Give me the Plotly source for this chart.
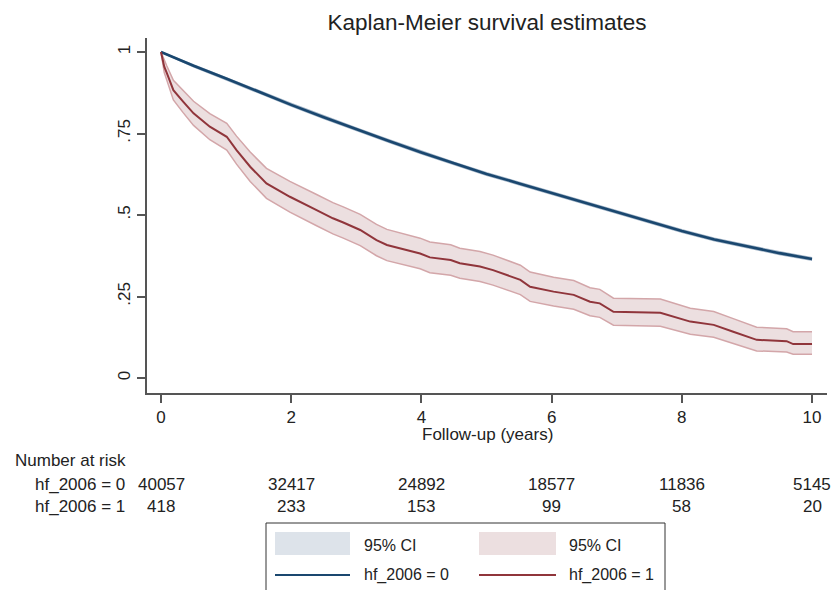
import plotly.graph_objects as go

# ---------------- data ----------------
# hf_2006 = 0 (survival estimate and 95% CI)
t0 = [0.0, 0.5, 1.0, 1.5, 2.0, 2.5, 3.0, 3.5, 4.0, 4.5, 5.0, 5.5, 6.0, 6.5, 7.0, 7.5, 8.0, 8.5, 9.0, 9.5, 10.0]
s0 = [1.0, 0.958, 0.919, 0.878, 0.838, 0.800, 0.763, 0.727, 0.692, 0.658, 0.626, 0.597, 0.568, 0.539, 0.510, 0.480, 0.451, 0.425, 0.403, 0.383, 0.365]
s0_hi = [1.0, 0.961, 0.923, 0.882, 0.842, 0.804, 0.767, 0.731, 0.696, 0.662, 0.630, 0.601, 0.572, 0.543, 0.514, 0.484, 0.455, 0.429, 0.407, 0.387, 0.369]
s0_lo = [1.0, 0.955, 0.915, 0.874, 0.834, 0.796, 0.759, 0.723, 0.688, 0.654, 0.622, 0.593, 0.564, 0.535, 0.506, 0.476, 0.447, 0.421, 0.399, 0.379, 0.361]

# hf_2006 = 1 (survival estimate and 95% CI)
t1 = [0.0, 0.05, 0.09, 0.19, 0.34, 0.50, 0.75, 1.01, 1.16, 1.37, 1.62, 1.98, 2.39, 2.64, 2.80,
      3.06, 3.31, 3.47, 3.98, 4.13, 4.45, 4.59, 4.90, 5.10, 5.52, 5.67, 6.03, 6.34, 6.59, 6.74,
      6.95, 7.67, 8.13, 8.49, 8.79, 9.15, 9.61, 9.71, 10.0]
s1 = [1.0, 0.955, 0.935, 0.883, 0.848, 0.812, 0.771, 0.740, 0.699, 0.648, 0.597, 0.556, 0.515, 0.490, 0.477,
      0.454, 0.423, 0.408, 0.382, 0.370, 0.362, 0.352, 0.342, 0.331, 0.301, 0.280, 0.265, 0.255, 0.234, 0.229,
      0.203, 0.200, 0.173, 0.163, 0.142, 0.117, 0.113, 0.104, 0.104]
s1_hi = [1.0, 0.973, 0.957, 0.913, 0.882, 0.849, 0.811, 0.781, 0.742, 0.693, 0.643, 0.603, 0.563, 0.538, 0.525,
         0.502, 0.471, 0.456, 0.429, 0.417, 0.409, 0.398, 0.388, 0.377, 0.346, 0.325, 0.309, 0.299, 0.277, 0.272,
         0.245, 0.242, 0.214, 0.204, 0.182, 0.156, 0.151, 0.142, 0.142]
s1_lo = [1.0, 0.937, 0.913, 0.853, 0.814, 0.775, 0.731, 0.699, 0.656, 0.603, 0.551, 0.509, 0.467, 0.442, 0.429,
         0.406, 0.375, 0.360, 0.335, 0.323, 0.315, 0.306, 0.296, 0.285, 0.256, 0.235, 0.221, 0.211, 0.191, 0.186,
         0.162, 0.159, 0.134, 0.125, 0.106, 0.083, 0.080, 0.073, 0.073]

# number at risk table
risk_times = [0, 2, 4, 6, 8, 10]
risk_0 = [40057, 32417, 24892, 18577, 11836, 5145]
risk_1 = [418, 233, 153, 99, 58, 20]

x_ticks = [0, 2, 4, 6, 8, 10]
y_ticks = [0, 0.25, 0.5, 0.75, 1]
y_tick_labels = ["0", ".25", ".5", ".75", "1"]

# ---------------- styling ----------------
BLUE = "#1a476f"
BLUE_EDGE = "#a4b6c8"
BLUE_FILL = "#dde3ea"
RED = "#90353b"
RED_EDGE = "#d3a6a9"
RED_FILL = "#ecdfe0"
FONT = "Arial, Liberation Sans, sans-serif"
AX = "#555555"

W, H = 834, 590
ML, MR, MT, MB = 147, 7, 38, 197
PW, PH = W - ML - MR, H - MT - MB


def px(xp):
    return (xp - ML) / PW


def py(yp):
    return (H - MB - yp) / PH


fig = go.Figure()

# CI bands
for t, hi, lo, edge, fill in [(t0, s0_hi, s0_lo, BLUE_EDGE, BLUE_FILL), (t1, s1_hi, s1_lo, RED_EDGE, RED_FILL)]:
    fig.add_trace(go.Scatter(x=t, y=hi, mode="lines", line=dict(color=edge, width=1.5),
                             showlegend=False, hoverinfo="skip"))
    fig.add_trace(go.Scatter(x=t, y=lo, mode="lines", line=dict(color=edge, width=1.5),
                             fill="tonexty", fillcolor=fill, showlegend=False, hoverinfo="skip"))

# survival curves
fig.add_trace(go.Scatter(x=t0, y=s0, mode="lines", line=dict(color=BLUE, width=2.6),
                         name="hf_2006 = 0", showlegend=False))
fig.add_trace(go.Scatter(x=t1, y=s1, mode="lines", line=dict(color=RED, width=2),
                         name="hf_2006 = 1", showlegend=False))

annotations = []
# x-axis title
annotations.append(dict(x=0.5, y=py(434), xref="paper", yref="paper", text="Follow-up (years)",
                        showarrow=False, xanchor="center", yanchor="middle",
                        font=dict(size=17, color="#222222", family=FONT)))
# number at risk
annotations.append(dict(x=px(13), y=py(460), xref="paper", yref="paper", text="Number at risk",
                        showarrow=False, xanchor="left", yanchor="middle",
                        font=dict(size=17, color="#222222", family=FONT)))
for label, vals, yy in [("hf_2006 = 0", risk_0, 484), ("hf_2006 = 1", risk_1, 506)]:
    annotations.append(dict(x=px(33), y=py(yy), xref="paper", yref="paper", text=label,
                            showarrow=False, xanchor="left", yanchor="middle",
                            font=dict(size=17, color="#222222", family=FONT)))
    for tt, v in zip(risk_times, vals):
        annotations.append(dict(x=tt, y=py(yy), xref="x", yref="paper", text=str(v),
                                showarrow=False, xanchor="center", yanchor="middle",
                                font=dict(size=17, color="#222222", family=FONT)))

# legend (manual, Stata style)
shapes = []
shapes.append(dict(type="rect", xref="paper", yref="paper", x0=px(266), x1=px(665), y0=py(523), y1=py(600),
                   line=dict(color="#333333", width=1), fillcolor="rgba(0,0,0,0)"))
legend_items = [
    (275, 350, 362, BLUE_FILL, BLUE, "hf_2006 = 0"),
    (479, 556, 567, RED_FILL, RED, "hf_2006 = 1"),
]
for x0, x1, xt, fill, col, lab in legend_items:
    shapes.append(dict(type="rect", xref="paper", yref="paper", x0=px(x0), x1=px(x1), y0=py(532), y1=py(555),
                       line=dict(width=0), fillcolor=fill))
    shapes.append(dict(type="line", xref="paper", yref="paper", x0=px(x0), x1=px(x1), y0=py(575), y1=py(575),
                       line=dict(color=col, width=2)))
    annotations.append(dict(x=px(xt), y=py(545), xref="paper", yref="paper", text="95% CI",
                            showarrow=False, xanchor="left", yanchor="middle",
                            font=dict(size=16, color="#222222", family=FONT)))
    annotations.append(dict(x=px(xt), y=py(575), xref="paper", yref="paper", text=lab,
                            showarrow=False, xanchor="left", yanchor="middle",
                            font=dict(size=16, color="#222222", family=FONT)))

fig.update_layout(
    width=W, height=H,
    margin=dict(l=ML, r=MR, t=MT, b=MB, pad=0),
    paper_bgcolor="white", plot_bgcolor="white",
    font=dict(family=FONT, size=17, color="#222222"),
    title=dict(text="Kaplan-Meier survival estimates", x=0.5, xref="paper", xanchor="center",
               y=1 - 22 / H, yref="container", yanchor="middle",
               font=dict(size=22.5, color="#222222", family=FONT)),
    showlegend=False,
    annotations=annotations,
    shapes=shapes,
)
fig.update_xaxes(range=[-0.215, 10.23], tickmode="array", tickvals=x_ticks,
                 ticks="outside", ticklen=8, tickwidth=1.5, tickcolor=AX,
                 showline=True, linecolor=AX, linewidth=1.5, showgrid=False, zeroline=False,
                 tickfont=dict(size=17, color="#222222", family=FONT))
fig.update_yaxes(range=[-0.046, 1.043], tickmode="array", tickvals=y_ticks, ticktext=y_tick_labels,
                 tickangle=-90, ticks="outside", ticklen=8, tickwidth=1.5, tickcolor=AX,
                 showline=True, linecolor=AX, linewidth=1.5, showgrid=False, zeroline=False,
                 tickfont=dict(size=17, color="#222222", family=FONT))

fig.write_html("out.html")
